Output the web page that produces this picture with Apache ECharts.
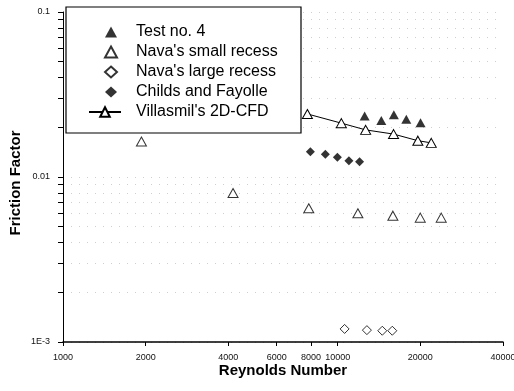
<!DOCTYPE html>
<html>
<head>
<meta charset="utf-8">
<script src="https://cdn.jsdelivr.net/npm/echarts@6/dist/echarts.min.js"></script>
<style>
  html, body { margin: 0; padding: 0; background: #fff; }
  #chart { width: 514px; height: 391px; }
</style>
</head>
<body>
<div id="chart"></div>
<script>
// Axis ticks
const reTicks = [1000, 2000, 4000, 6000, 8000, 10000, 20000, 40000];
const fDecades = [0.001, 0.01, 0.1];
const fMinorTicks = [0.001, 0.002, 0.003, 0.004, 0.005, 0.006, 0.007, 0.008, 0.009,
                     0.01, 0.02, 0.03, 0.04, 0.05, 0.06, 0.07, 0.08, 0.09, 0.1];

// Test no. 4
const testRe = [12540, 14420, 16020, 17780, 20040];
const testF  = [0.0234, 0.0220, 0.0238, 0.0224, 0.0213];

// Nava's small recess
const navaSmallRe = [1930, 4160, 7850, 11850, 15890, 19990, 23830];
const navaSmallF  = [0.0164, 0.0080, 0.00646, 0.00603, 0.00583, 0.00567, 0.00567];

// Nava's large recess
const navaLargeRe = [10600, 12780, 14540, 15810];
const navaLargeF  = [0.00120, 0.00118, 0.00117, 0.00117];

// Childs and Fayolle
const childsRe = [7955, 9020, 9975, 10990, 12020];
const childsF  = [0.01423, 0.01373, 0.01317, 0.01256, 0.01238];

// Villasmil's 2D-CFD
const villRe = [7760, 10315, 12645, 15980, 19590, 21920];
const villF  = [0.0241, 0.0212, 0.0193, 0.0182, 0.0166, 0.0161];

const markerNames = ['Test no. 4', "Nava's small recess", "Nava's large recess", 'Childs and Fayolle'];
const lineName = "Villasmil's 2D-CFD";

const pairs = (xs, ys) => xs.map((x, i) => [x, ys[i]]);

const FONT = 'Liberation Sans, Arial, sans-serif';
const openStyle = { color: '#fff', borderColor: '#000', borderWidth: 1 };
const solidStyle = { color: '#000', borderColor: '#000', borderWidth: 0 };
const legendText = { fontFamily: FONT, fontSize: 16, color: '#000' };

const chart = echarts.init(document.getElementById('chart'), null, { renderer: 'canvas' });

chart.setOption({
  animation: false,
  backgroundColor: '#fff',
  grid: { left: 63, right: 11, top: 12, bottom: 49, containLabel: false, outerBoundsMode: 'none' },
  // legend frame
  graphic: [{
    type: 'rect',
    z: 10,
    shape: { x: 66, y: 7, width: 235, height: 126 },
    style: { fill: '#fff', stroke: '#000', lineWidth: 1.2 }
  }],
  legend: [
    {
      orient: 'vertical',
      left: 104,
      top: 24,
      padding: 0,
      itemGap: 4,
      itemWidth: 12,
      itemHeight: 11,
      z: 11,
      selectedMode: false,
      textStyle: Object.assign({ padding: [0, 0, 0, 14] }, legendText),
      data: markerNames
    },
    {
      orient: 'vertical',
      left: 88,
      top: 104,
      padding: 0,
      itemWidth: 32,
      itemHeight: 12,
      z: 11,
      selectedMode: false,
      textStyle: Object.assign({ padding: [0, 0, 0, 10] }, legendText),
      data: [lineName]
    }
  ],
  xAxis: {
    type: 'log',
    min: 1000,
    max: 40000,
    name: 'Reynolds Number',
    nameLocation: 'middle',
    nameGap: 21,
    nameMoveOverlap: false,
    nameTextStyle: { fontFamily: FONT, fontSize: 15, fontWeight: 'bold', color: '#000' },
    axisLine: { show: true, lineStyle: { color: '#000', width: 1.5 } },
    axisTick: { show: true, customValues: reTicks, length: 4, lineStyle: { color: '#000' } },
    axisLabel: {
      customValues: reTicks,
      margin: 11,
      fontFamily: FONT,
      fontSize: 9,
      color: '#111',
      hideOverlap: false,
      formatter: v => String(Math.round(v))
    },
    minorTick: { show: false },
    splitLine: { show: false }
  },
  yAxis: {
    type: 'log',
    min: 0.001,
    max: 0.1,
    name: 'Friction Factor',
    nameLocation: 'middle',
    nameRotate: 90,
    nameGap: 40,
    nameMoveOverlap: false,
    nameTextStyle: { fontFamily: FONT, fontSize: 15, fontWeight: 'bold', color: '#000', padding: [0, 12, 0, 0] },
    axisLine: { show: true, lineStyle: { color: '#000', width: 1 } },
    axisTick: { show: true, customValues: fMinorTicks, length: 5, lineStyle: { color: '#000' } },
    axisLabel: {
      customValues: fDecades,
      margin: 13,
      fontFamily: FONT,
      fontSize: 9,
      color: '#111',
      formatter: v => (v < 0.005 ? '1E-3' : String(+v.toPrecision(3)))
    },
    splitLine: { show: true, lineStyle: { color: '#cfcfcf', width: 1, type: [1, 7] } }
  },
  series: [
    {
      name: 'Test no. 4',
      type: 'scatter',
      symbol: 'triangle',
      symbolSize: [10, 9],
      itemStyle: solidStyle,
      data: pairs(testRe, testF),
      z: 4
    },
    {
      name: "Nava's small recess",
      type: 'scatter',
      symbol: 'triangle',
      symbolSize: [10, 9],
      itemStyle: openStyle,
      data: pairs(navaSmallRe, navaSmallF),
      z: 4
    },
    {
      name: "Nava's large recess",
      type: 'scatter',
      symbol: 'diamond',
      symbolSize: [9, 9],
      itemStyle: openStyle,
      data: pairs(navaLargeRe, navaLargeF),
      z: 4
    },
    {
      name: 'Childs and Fayolle',
      type: 'scatter',
      symbol: 'diamond',
      symbolSize: [9, 9],
      itemStyle: solidStyle,
      data: pairs(childsRe, childsF),
      z: 4
    },
    {
      name: lineName,
      type: 'line',
      symbol: 'triangle',
      symbolSize: [10, 9],
      showSymbol: true,
      showAllSymbol: true,
      itemStyle: openStyle,
      lineStyle: { color: '#000', width: 1 },
      data: pairs(villRe, villF),
      z: 3
    }
  ]
});
</script>
</body>
</html>
